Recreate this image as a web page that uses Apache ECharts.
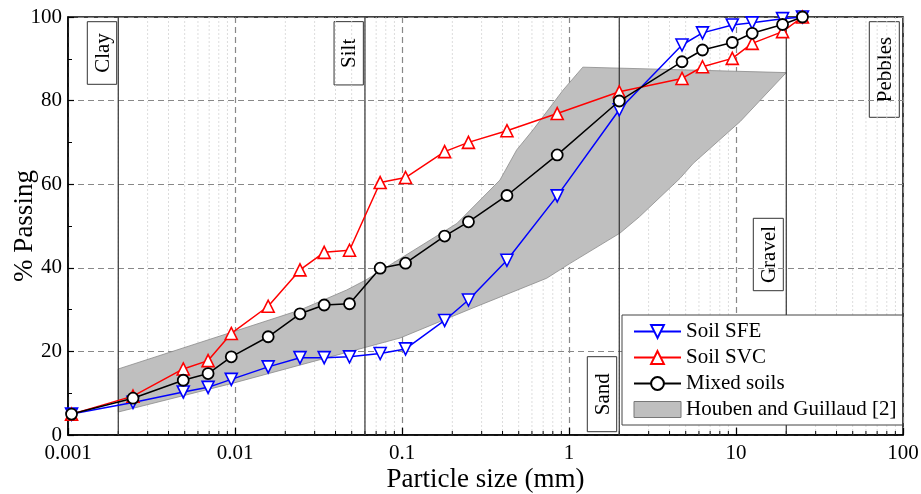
<!DOCTYPE html>
<html><head><meta charset="utf-8">
<script src="https://cdn.jsdelivr.net/npm/echarts@6/dist/echarts.min.js"></script>
<style>html,body{margin:0;padding:0;background:#fff}#c{width:921px;height:494px}</style>
</head><body><div id="c"></div>
<script>
// Sieve / hydrometer particle sizes (mm)
const sizes = [0.00105, 0.00245, 0.0049, 0.0069, 0.0095, 0.0158, 0.0245, 0.0342, 0.0485, 0.074, 0.105, 0.18, 0.25, 0.425, 0.85, 2.0, 4.75, 6.3, 9.5, 12.5, 19, 25];
const soilSFE = [5, 7.8, 10.3, 11.4, 13.3, 16.3, 18.5, 18.5, 18.7, 19.5, 20.6, 27.4, 32.3, 41.8, 57.2, 77.8, 93.3, 96.2, 98.1, 98.6, 99.6, 100];
const soilSVC = [5, 9.3, 15.8, 17.8, 24.3, 30.8, 39.5, 43.7, 44.2, 60.4, 61.6, 67.8, 70.0, 72.8, 76.9, 82.1, 85.3, 88.1, 90.1, 93.7, 96.5, 100];
const mixedSoils = [5, 8.8, 13.1, 14.7, 18.7, 23.5, 29.0, 31.1, 31.4, 39.9, 41.1, 47.6, 51.0, 57.3, 67.0, 79.9, 89.3, 92.1, 93.9, 96.1, 98.2, 100];
// Houben and Guillaud envelope: upper edge left->right, then lower edge right->left
const bandX = [0.002, 0.00975, 0.0245, 0.0467, 0.0608, 0.213, 0.386, 0.486, 0.609, 0.921, 1.21, 20, 10.6, 5.55, 4.62, 2.64, 2.02, 1.01, 0.735, 0.266, 0.0973, 0.00973, 0.002];
const bandY = [15.8, 24.7, 29.9, 34.7, 37.1, 50.6, 61.0, 68.2, 73.0, 82.5, 88.0, 86.7, 75.0, 65.0, 61.4, 52.2, 48.3, 41.0, 37.5, 30.4, 23.2, 12.4, 5.5];
// Axis ticks
const xTickLabels = ['0.001', '0.01', '0.1', '1', '10', '100'];
const yTickLabels = ['0', '20', '40', '60', '80', '100'];
const decades = [0.001, 0.01, 0.1, 1, 10];
const minorMultipliers = [2, 3, 4, 5, 6, 7, 8, 9];
// Soil class boundaries (mm)
const boundaries = [0.002, 0.06, 2, 20];
const zoneNames = ['Clay', 'Silt', 'Sand', 'Gravel', 'Pebbles'];

const minorTicks = [];
decades.forEach(d => minorMultipliers.forEach(m => minorTicks.push(m * d)));

const FONT = 'Liberation Serif';
const chart = echarts.init(document.getElementById('c'), null, {renderer: 'canvas'});

function pairs(ys) { return sizes.map((x, i) => [x, ys[i]]); }

// zone label boxes (layout only): [cx, cy, w, h]
const zoneBoxes = [[102, 53, 29.4, 62.6], [348.7, 53.3, 29.3, 63.3], [602, 394.2, 29.4, 75], [768.3, 254.5, 30, 72.4], [884.3, 69.5, 30, 95.6]];

const graphics = zoneNames.map((name, i) => {
  const [cx, cy, w, h] = zoneBoxes[i];
  return {
    type: 'group', x: cx, y: cy, z: 10,
    children: [
      {type: 'rect', shape: {x: -w / 2, y: -h / 2, width: w, height: h}, style: {fill: '#fff', stroke: '#333', lineWidth: 1}},
      {type: 'text', rotation: Math.PI / 2, style: {text: name, x: 0, y: 1, align: 'center', verticalAlign: 'middle', font: '21px "' + FONT + '"', fill: '#000'}}
    ]
  };
});

const option = {
  animation: false,
  backgroundColor: '#fff',
  grid: {left: 68, right: 18, top: 17, bottom: 59, show: true, borderColor: '#000', borderWidth: 1.5, backgroundColor: 'transparent', containLabel: false, outerBoundsMode: 'none'},
  xAxis: {
    type: 'log', logBase: 10, min: 0.001, max: 100,
    name: 'Particle size (mm)', nameLocation: 'middle', nameGap: 31, nameMoveOverlap: false,
    nameTextStyle: {fontFamily: FONT, fontSize: 27, color: '#000'},
    axisLine: {show: true, lineStyle: {color: '#000', width: 1.5}},
    axisTick: {show: true, inside: true, length: 7, lineStyle: {color: '#000', width: 1.2}},
    axisLabel: {fontFamily: FONT, fontSize: 21, color: '#000', margin: 8,
      formatter: v => xTickLabels[Math.round(Math.log10(v)) + 3]},
    splitLine: {show: true, lineStyle: {color: '#888', type: [6, 4], width: 1.2}},
    minorTick: {show: false}
  },
  yAxis: {
    type: 'value', min: 0, max: 100, interval: 20,
    name: '% Passing', nameLocation: 'middle', nameGap: 30, nameMoveOverlap: false,
    nameTextStyle: {fontFamily: FONT, fontSize: 27, color: '#000'},
    axisLine: {show: true, lineStyle: {color: '#000', width: 1.5}},
    axisTick: {show: true, inside: true, length: 6, lineStyle: {color: '#000', width: 1.2}},
    minorTick: {show: true, splitNumber: 2, length: 4, lineStyle: {color: '#000', width: 1}},
    axisLabel: {fontFamily: FONT, fontSize: 21, color: '#000', margin: 6,
      formatter: v => yTickLabels[Math.round(v / 20)]},
    splitLine: {show: true, lineStyle: {color: '#888', type: [6, 4], width: 1.2}}
  },
  legend: {
    left: 622, top: 315, orient: 'vertical',
    padding: [6, 6, 5, 11],
    backgroundColor: '#fff', borderColor: '#444', borderWidth: 1,
    itemWidth: 47, itemHeight: 16, itemGap: 5,
    textStyle: {fontFamily: FONT, fontSize: 21, color: '#000', padding: [0, 0, 0, 0]},
    data: [
      {name: 'Soil SFE'}, {name: 'Soil SVC'}, {name: 'Mixed soils'},
      {name: 'Houben and Guillaud [2]', icon: 'rect', itemStyle: {color: '#bfbfbf', borderColor: '#777', borderWidth: 1}}
    ]
  },
  graphic: graphics,
  series: [
    {
      type: 'custom', name: 'minorGrid', silent: true, z: 1,
      data: minorTicks.map(v => [v, 0]),
      renderItem: (params, api) => {
        const v = api.value(0);
        const b = api.coord([v, 0]);
        const t = api.coord([v, 100]);
        return {type: 'group', children: [
          {type: 'line', shape: {x1: b[0], y1: b[1], x2: t[0], y2: t[1]}, style: {stroke: '#d4d4d4', lineWidth: 0.8, lineDash: [2, 2]}},
          {type: 'line', shape: {x1: b[0], y1: b[1], x2: b[0], y2: b[1] - 4}, style: {stroke: '#000', lineWidth: 1}}
        ]};
      }
    },
    {
      type: 'custom', name: 'Houben and Guillaud [2]', z: 2,
      itemStyle: {color: '#bfbfbf', borderColor: '#777', borderWidth: 1},
      data: bandX.map((x, i) => [x, bandY[i]]),
      renderItem: (params, api) => {
        if (params.dataIndex !== 0) return null;
        const pts = bandX.map((x, i) => api.coord([x, bandY[i]]));
        return {type: 'polygon', shape: {points: pts}, style: {fill: '#bfbfbf', stroke: '#8a8a8a', lineWidth: 0.8}};
      }
    },
    {
      type: 'custom', name: 'boundaries', silent: true, z: 3,
      data: boundaries.map(v => [v, 0]),
      renderItem: (params, api) => {
        const v = api.value(0);
        const b = api.coord([v, 0]);
        const t = api.coord([v, 100]);
        return {type: 'line', shape: {x1: b[0], y1: b[1], x2: t[0], y2: t[1]}, style: {stroke: '#333', lineWidth: 1.2}};
      }
    },
    {
      type: 'line', name: 'Soil SFE', z: 4, data: pairs(soilSFE),
      symbol: 'triangle', symbolRotate: 180, symbolSize: 12, showAllSymbol: true,
      lineStyle: {color: '#0000ff', width: 1.5}, itemStyle: {color: '#fff', borderColor: '#0000ff', borderWidth: 1.6}, color: '#0000ff'
    },
    {
      type: 'line', name: 'Soil SVC', z: 5, data: pairs(soilSVC),
      symbol: 'triangle', symbolSize: 12, showAllSymbol: true,
      lineStyle: {color: '#ff0000', width: 1.5}, itemStyle: {color: '#fff', borderColor: '#ff0000', borderWidth: 1.6}, color: '#ff0000'
    },
    {
      type: 'line', name: 'Mixed soils', z: 6, data: pairs(mixedSoils),
      symbol: 'circle', symbolSize: 11, showAllSymbol: true,
      lineStyle: {color: '#000', width: 1.5}, itemStyle: {color: '#fff', borderColor: '#000', borderWidth: 1.8}, color: '#000'
    }
  ]
};
chart.setOption(option);
</script></body></html>
